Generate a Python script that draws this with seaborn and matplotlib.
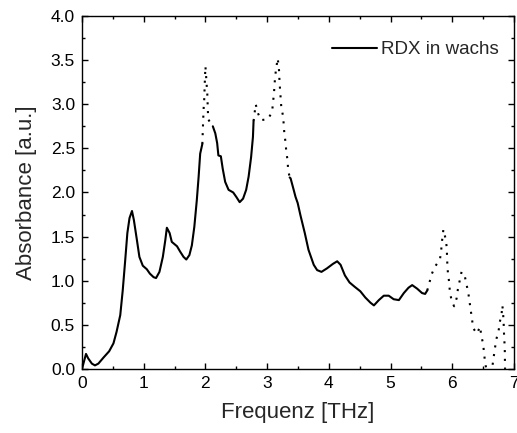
import numpy as np
import pandas as pd
import seaborn as sns
import matplotlib.pyplot as plt
from matplotlib.ticker import MultipleLocator, FormatStrFormatter

# Daten (Frequenz in THz, Absorbance in a.u.)
# durchgezogene und gepunktete Abschnitte getrennt
x_solid1 = [0.0, 0.065, 0.10, 0.16, 0.21, 0.265, 0.35, 0.44, 0.51, 0.56, 0.62, 0.66, 0.70,
            0.735, 0.77, 0.81, 0.84, 0.89, 0.93, 0.985, 1.05, 1.10, 1.16, 1.20, 1.255, 1.31,
            1.35, 1.375, 1.42, 1.455, 1.54, 1.59, 1.645, 1.69, 1.74, 1.78, 1.82, 1.86, 1.89,
            1.915, 1.95]
y_solid1 = [0.0, 0.17, 0.12, 0.06, 0.04, 0.06, 0.13, 0.20, 0.29, 0.42, 0.61, 0.89, 1.23,
            1.54, 1.71, 1.79, 1.69, 1.46, 1.27, 1.17, 1.13, 1.08, 1.04, 1.03, 1.10, 1.27,
            1.46, 1.60, 1.54, 1.44, 1.39, 1.33, 1.27, 1.24, 1.29, 1.40, 1.61, 1.91, 2.18,
            2.44, 2.55]

x_dot1 = [1.95, 1.96, 1.97, 1.98, 1.985, 1.99, 2.0, 2.01, 2.02, 2.03, 2.035, 2.04, 2.045,
          2.08, 2.12]
y_dot1 = [2.55, 2.75, 2.94, 3.05, 3.15, 3.25, 3.43, 3.33, 3.22, 3.12, 3.02, 2.92, 2.83,
          2.79, 2.75]

x_solid2 = [2.12, 2.16, 2.19, 2.21, 2.25, 2.28, 2.32, 2.375, 2.45, 2.50, 2.555, 2.61, 2.66,
            2.70, 2.74, 2.77, 2.78]
y_solid2 = [2.75, 2.67, 2.56, 2.42, 2.41, 2.27, 2.12, 2.03, 2.00, 1.95, 1.89, 1.93, 2.03,
            2.18, 2.40, 2.63, 2.81]

x_dot2 = [2.78, 2.815, 2.85, 2.90, 3.01, 3.08, 3.095, 3.11, 3.12, 3.13, 3.15, 3.17, 3.185,
          3.195, 3.20, 3.21, 3.22, 3.23, 3.26, 3.27, 3.28, 3.30, 3.31, 3.33, 3.34, 3.365]
y_dot2 = [2.81, 3.00, 2.90, 2.82, 2.83, 2.91, 3.02, 3.12, 3.22, 3.32, 3.42, 3.52, 3.45,
          3.36, 3.26, 3.16, 3.06, 2.96, 2.86, 2.75, 2.66, 2.56, 2.46, 2.37, 2.26, 2.17]

x_solid3 = [3.365, 3.38, 3.43, 3.46, 3.495, 3.54, 3.61, 3.67, 3.755, 3.81, 3.88, 3.97, 4.065,
            4.135, 4.19, 4.26, 4.335, 4.42, 4.51, 4.59, 4.675, 4.73, 4.81, 4.89, 4.97, 5.05,
            5.135, 5.215, 5.29, 5.35, 5.43, 5.51, 5.56, 5.595]
y_solid3 = [2.17, 2.16, 2.03, 1.95, 1.88, 1.74, 1.54, 1.35, 1.18, 1.12, 1.10, 1.14, 1.19,
            1.22, 1.18, 1.06, 0.98, 0.93, 0.88, 0.81, 0.75, 0.72, 0.78, 0.83, 0.83, 0.79,
            0.78, 0.86, 0.92, 0.95, 0.91, 0.86, 0.85, 0.89]

x_dot3 = [5.595, 5.63, 5.67, 5.72, 5.80, 5.82, 5.83, 5.85, 5.855, 5.89, 5.91, 5.92, 5.93,
          5.95, 5.96, 5.99, 6.03, 6.07, 6.09, 6.12, 6.15, 6.20, 6.23, 6.26, 6.28, 6.30, 6.32,
          6.34, 6.40, 6.45, 6.47, 6.50, 6.515, 6.53, 6.59, 6.65, 6.67, 6.69, 6.715, 6.75,
          6.77, 6.80, 6.81, 6.82, 6.83, 6.835, 6.84, 6.85, 6.855]
y_dot3 = [0.89, 0.98, 1.08, 1.16, 1.24, 1.34, 1.43, 1.54, 1.58, 1.48, 1.38, 1.18, 1.08,
          0.98, 0.88, 0.77, 0.71, 0.80, 0.90, 1.00, 1.10, 1.06, 0.96, 0.86, 0.76, 0.66, 0.56,
          0.46, 0.40, 0.48, 0.38, 0.28, 0.18, 0.08, -0.15, 0.03, 0.13, 0.23, 0.34, 0.43,
          0.53, 0.63, 0.72, 0.67, 0.55, 0.47, 0.36, 0.25, 0.0]

label = 'RDX in wachs'

sns.set_style('ticks')
plt.rcParams['font.family'] = ['Liberation Sans', 'DejaVu Sans']

fig = plt.figure(figsize=(5.17, 4.33), dpi=100)
ax = fig.add_axes([0.1586, 0.148, 0.8356, 0.815])

punkte = (0, (1, 3.2))
segmente = [(x_solid1, y_solid1, '-'), (x_dot1, y_dot1, punkte),
            (x_solid2, y_solid2, '-'), (x_dot2, y_dot2, punkte),
            (x_solid3, y_solid3, '-'), (x_dot3, y_dot3, punkte)]
for i, (xs, ys, ls) in enumerate(segmente):
    df = pd.DataFrame({'x': xs, 'y': ys})
    sns.lineplot(data=df, x='x', y='y', ax=ax, color='black', linestyle=ls,
                 linewidth=1.5, estimator=None, sort=False,
                 label=label if i == 0 else None)

ax.set_xlim(0, 7)
ax.set_ylim(0, 4.0)
ax.xaxis.set_major_locator(MultipleLocator(1))
ax.xaxis.set_minor_locator(MultipleLocator(0.5))
ax.yaxis.set_major_locator(MultipleLocator(0.5))
ax.yaxis.set_minor_locator(MultipleLocator(0.25))
ax.yaxis.set_major_formatter(FormatStrFormatter('%.1f'))
ax.tick_params(which='both', direction='in', top=True, right=True, labelsize=12.5,
               width=1.0, colors='black', pad=5)
ax.tick_params(which='major', length=4.5)
ax.tick_params(which='minor', length=2.5)
for s in ax.spines.values():
    s.set_linewidth(1.0)
    s.set_color('black')

ax.set_xlabel('Frequenz [THz]', fontsize=16, labelpad=8)
ax.set_ylabel('Absorbance [a.u.]', fontsize=16, labelpad=10)

ax.legend(loc='upper right', bbox_to_anchor=(0.983, 0.95), borderaxespad=0,
          frameon=False, fontsize=13.5, handlelength=2.4, handletextpad=0.25)

plt.savefig('out.png', dpi=100)
